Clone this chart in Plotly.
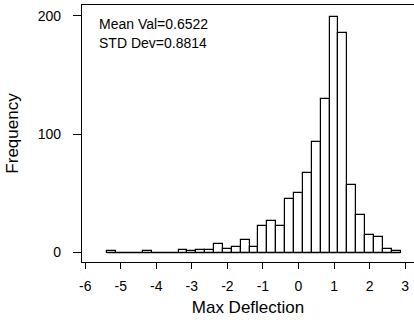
import plotly.graph_objects as go

# Histogram of Max Deflection (bin centers, bin width 0.25)
bin_centers = [-5.25, -5.0, -4.75, -4.5, -4.25, -4.0, -3.75, -3.5, -3.25, -3.0,
               -2.75, -2.5, -2.25, -2.0, -1.75, -1.5, -1.25, -1.0, -0.75, -0.5,
               -0.25, 0.0, 0.25, 0.5, 0.75, 1.0, 1.25, 1.5, 1.75, 2.0,
               2.25, 2.5, 2.75]
frequency = [1, 0, 0, 0, 1, 0, 0, 0, 2, 1,
             2, 2, 7, 3, 5, 11, 5, 22, 27, 22,
             45, 50, 67, 93, 130, 199, 185, 57, 32, 15,
             13, 3, 1]
bin_width = 0.25
x_ticks = [-6, -5, -4, -3, -2, -1, 0, 1, 2, 3]
y_ticks = [0, 100, 200]
stats_text = ["Mean Val=0.6522", "STD Dev=0.8814"]

font_family = "Liberation Sans, Arial, sans-serif"

fig = go.Figure()
fig.add_trace(go.Bar(
    x=bin_centers, y=frequency, width=[bin_width] * len(bin_centers),
    marker=dict(color="white", line=dict(color="black", width=1.2)),
    showlegend=False, hoverinfo="x+y",
))
# zero baseline spanning the binned range
fig.add_trace(go.Scatter(
    x=[bin_centers[0] - bin_width / 2, bin_centers[-1] + bin_width / 2],
    y=[0, 0], mode="lines", line=dict(color="black", width=1.2),
    showlegend=False, hoverinfo="skip",
))

fig.add_annotation(
    xref="paper", yref="paper", x=0.045, y=0.925, xanchor="left", yanchor="middle",
    text=stats_text[0], showarrow=False, font=dict(size=14, color="black", family=font_family),
)
fig.add_annotation(
    xref="paper", yref="paper", x=0.045, y=0.853, xanchor="left", yanchor="middle",
    text=stats_text[1], showarrow=False, font=dict(size=14, color="black", family=font_family),
)

fig.update_layout(
    width=414, height=320,
    margin=dict(l=82, r=0, t=5, b=58, autoexpand=False),
    paper_bgcolor="white", plot_bgcolor="white",
    bargap=0,
    font=dict(family=font_family, color="black"),
    xaxis=dict(
        range=[-6.09, 3.25], tickvals=x_ticks, ticktext=[str(v) for v in x_ticks],
        showgrid=False, zeroline=False, showline=True, linecolor="black", linewidth=1.3,
        mirror=True, ticks="outside", ticklen=6, tickwidth=1.2, tickcolor="black",
        tickfont=dict(size=14, color="black"), ticklabelstandoff=5, automargin=False,
        title=dict(text="Max Deflection", font=dict(size=17, color="black"), standoff=8),
    ),
    yaxis=dict(
        range=[-8, 209], tickvals=y_ticks, ticktext=[str(v) for v in y_ticks],
        showgrid=False, zeroline=False, showline=True, linecolor="black", linewidth=1.3,
        ticks="outside", ticklen=8, tickwidth=1.2, tickcolor="black",
        tickfont=dict(size=14, color="black"), ticklabelstandoff=9, automargin=False,
        title=dict(text="Frequency", font=dict(size=17, color="black"), standoff=14),
    ),
)

fig.write_html("out.html", config={"displayModeBar": False},
               post_script="document.body.style.margin='0';")
